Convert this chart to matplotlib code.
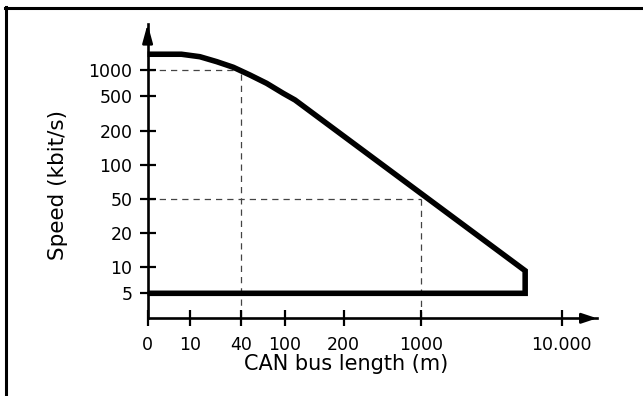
import numpy as np
import matplotlib
matplotlib.use("Agg")
import matplotlib.pyplot as plt
from matplotlib.lines import Line2D

# ---------------- data ----------------
x_ticks = [0, 10, 40, 100, 200, 1000, 10000]
x_tick_labels = ["0", "10", "40", "100", "200", "1000", "10.000"]
y_ticks = [5, 10, 20, 50, 100, 200, 500, 1000]
y_tick_labels = ["5", "10", "20", "50", "100", "200", "500", "1000"]

# speed limit curve (bus length m, speed kbit/s)
curve_len = [0, 8, 13.1, 20.7, 32.4, 48.2, 68.5, 97, 113, 5500, 5500, 0]
curve_speed = [1550, 1550, 1449, 1265, 1086, 879, 701, 534, 447, 9.0, 5, 5]

# reference dashed guides
guide_h1_len = [0, 35]
guide_h1_speed = [1000, 1000]
guide_v1_len = [40, 40]
guide_v1_speed = [900, 2.6]
guide_h2_len = [0, 1000]
guide_h2_speed = [50, 50]
guide_v2_len = [1000, 1000]
guide_v2_speed = [50, 2.6]

# -------------- schematic scales (piecewise, pixel-calibrated) --------------
def pw(v, xp, fp):
    v = np.asarray(v, dtype=float)
    out = np.interp(v, xp, fp)
    hi = v > xp[-1]
    lo = v < xp[0]
    out = np.where(hi, fp[-1] + (v - xp[-1]) * (fp[-1] - fp[-2]) / (xp[-1] - xp[-2]), out)
    out = np.where(lo, fp[0] + (v - xp[0]) * (fp[1] - fp[0]) / (xp[1] - xp[0]), out)
    return out

# x: t = x/10 for x<10, 1+log10(x/10) above
x_t_anchor = [0, 1, 1.602, 2, 2.301, 3, 4]
x_px_anchor = [0, 42.3, 93.5, 137, 196, 273.1, 414.2]

def x_to_t(x):
    x = np.asarray(x, dtype=float)
    with np.errstate(divide="ignore", invalid="ignore"):
        lg = 1 + np.log10(np.clip(x, 1e-9, None) / 10)
    return np.where(x < 10, x / 10, lg)

def t_to_x(t):
    t = np.asarray(t, dtype=float)
    return np.where(t < 1, 10 * t, 10 * 10 ** (t - 1))

def x_fwd(x):
    return pw(x_to_t(x), x_t_anchor, x_px_anchor)

def x_inv(p):
    return t_to_x(pw(p, x_px_anchor, x_t_anchor))

y_l_anchor = [0.699, 1, 1.301, 1.699, 2, 2.301, 2.699, 3]
y_px_anchor = [25, 51.6, 85.6, 119.6, 153.3, 187.6, 222.6, 248]

def y_fwd(y):
    y = np.asarray(y, dtype=float)
    with np.errstate(divide="ignore", invalid="ignore"):
        lg = np.log10(np.clip(y, 1e-9, None))
    return pw(lg, y_l_anchor, y_px_anchor)

def y_inv(p):
    return 10 ** pw(p, y_px_anchor, y_l_anchor)

# -------------- figure --------------
plt.rcParams["font.family"] = ["DejaVu Sans"]
W, H = 643, 396
fig = plt.figure(figsize=(W / 100, H / 100), dpi=100)

ax_left, ax_bottom_px, ax_right, ax_top_px = 147.6, 318.3, 597.0, 24.0
ax = fig.add_axes([ax_left / W, (H - ax_bottom_px) / H,
                   (ax_right - ax_left) / W, (ax_bottom_px - ax_top_px) / H])

ax.set_xscale("function", functions=(x_fwd, x_inv))
ax.set_yscale("function", functions=(y_fwd, y_inv))
ax.set_xlim(0, float(x_inv(ax_right - ax_left)))
y_bottom = float(y_inv(0))
ax.set_ylim(y_bottom, float(y_inv(ax_bottom_px - ax_top_px)))

# frame
fig.add_artist(Line2D([5 / W, 1], [1 - 8 / H, 1 - 8 / H], color="black", lw=2.2,
                      transform=fig.transFigure))
fig.add_artist(Line2D([6 / W, 6 / W], [0, 1 - 7 / H], color="black", lw=2.2,
                      transform=fig.transFigure))

# dashed guides
dash_kw = dict(color="#444444", lw=0.9, linestyle=(0, (5, 4)), zorder=1)
ax.plot(guide_h1_len, guide_h1_speed, **dash_kw)
ax.plot(guide_v1_len, [guide_v1_speed[0], y_bottom], **dash_kw)
ax.plot(guide_h2_len, guide_h2_speed, **dash_kw)
ax.plot(guide_v2_len, [guide_v2_speed[0], y_bottom], **dash_kw)

# curve
ax.plot(curve_len, curve_speed, color="black", lw=4.0, solid_joinstyle="miter",
        solid_capstyle="butt", zorder=3, clip_on=False)

# axes styling
for s in ["top", "right"]:
    ax.spines[s].set_visible(False)
for s in ["left", "bottom"]:
    ax.spines[s].set_linewidth(1.9)
ax.patch.set_visible(False)

ax.set_xticks(x_ticks)
ax.set_xticklabels(x_tick_labels)
ax.set_yticks(y_ticks)
ax.set_yticklabels(y_tick_labels)
ax.minorticks_off()
ax.tick_params(axis="both", direction="inout", length=11, width=1.6,
               labelsize=12.5, colors="black")
ax.tick_params(axis="x", pad=7)
ax.tick_params(axis="y", pad=5.5)

# arrows
ax.annotate("", xy=(1.0, 0), xycoords="axes fraction", xytext=(0.97, 0),
            arrowprops=dict(arrowstyle="-|>,head_length=0.9,head_width=0.3",
                            color="black", lw=1.9, shrinkA=0, shrinkB=0))
ax.annotate("", xy=(0, 1.0), xycoords="axes fraction", xytext=(0, 0.95),
            arrowprops=dict(arrowstyle="-|>,head_length=1.1,head_width=0.3",
                            color="black", lw=1.9, shrinkA=0, shrinkB=0))

ax.set_xlabel("CAN bus length (m)", fontsize=15)
ax.xaxis.set_label_coords(0.4407, -0.12)
ax.set_ylabel("Speed (kbit/s)", fontsize=15.5)
ax.yaxis.set_label_coords(-0.178, 0.4545)

fig.savefig("out.png", dpi=100)
